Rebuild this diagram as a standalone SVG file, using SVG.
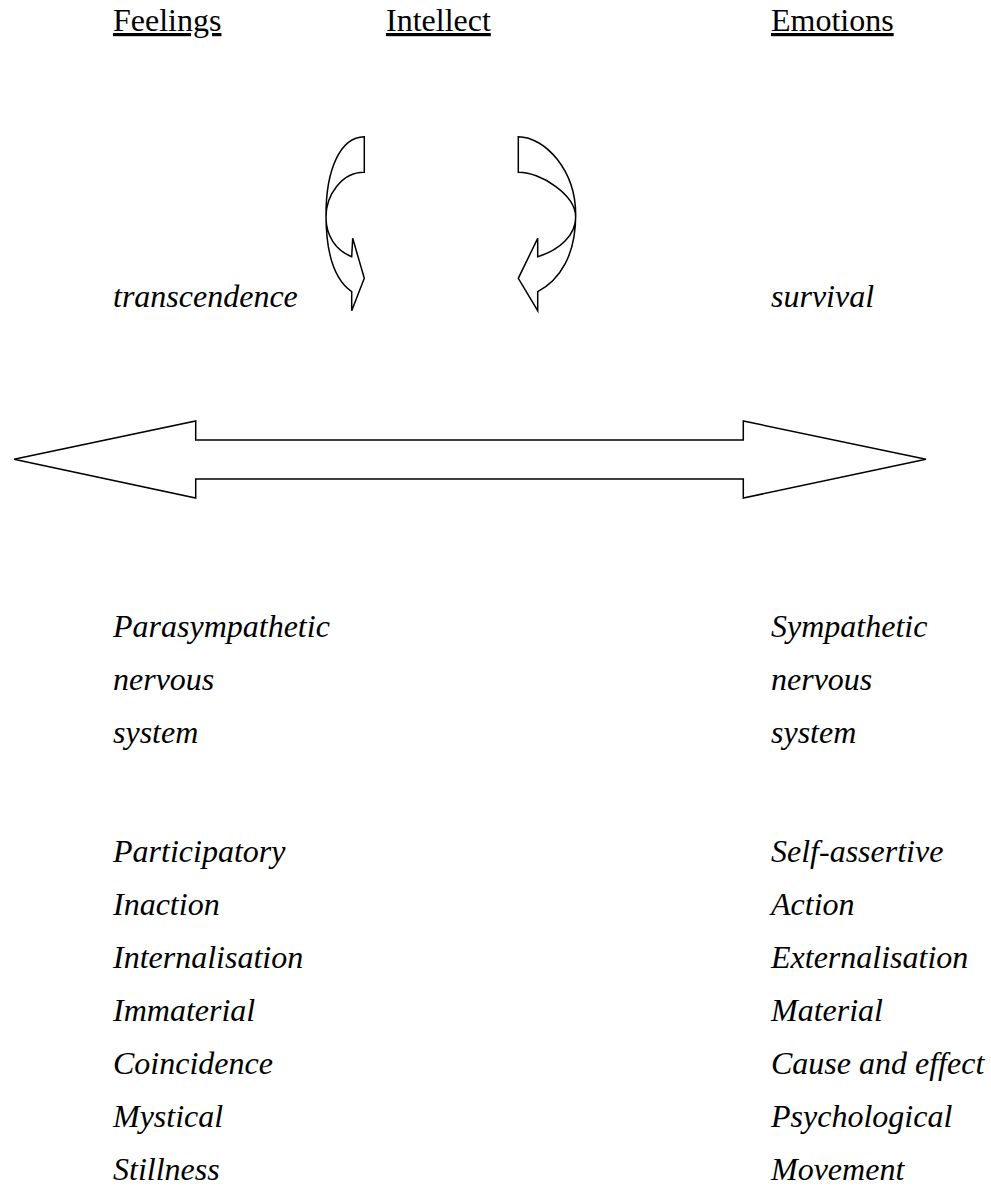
<svg xmlns="http://www.w3.org/2000/svg" width="991" height="1194" viewBox="0 0 991 1194">
<style>
text{font-family:"Liberation Serif","Times New Roman",serif;font-size:32px;fill:#000}
.h{text-decoration:underline}
.i{font-style:italic}
.shape{fill:#fff;stroke:#000;stroke-width:1.5;stroke-linejoin:miter}
</style>
<rect width="991" height="1194" fill="#fff"/>
<g id="headers">
<text class="h" x="113" y="31">Feelings</text>
<text class="h" x="386" y="31">Intellect</text>
<text class="h" x="771" y="31">Emotions</text>
</g>
<g id="connectors">
<path id="curl-left" class="shape" d="M364.3,136.7 L364.3,172.3 C342,172 326,195 326,217 C326,235 335,250 351.7,256.7 L352.7,238.3 L364.3,278.3 L351.7,310.7 L351.7,291.7 C335,280 326,255 326,215 C326,170 340,137 364.3,136.7 Z"/>
<path id="curl-right" class="shape" d="M518.3,136.7 L518.3,172.3 C541,172 575.7,195 575.7,217 C575.7,235 560,250 537.7,256.7 L537.7,238.3 L518.3,278.3 L537.7,310.7 L537.7,291.7 C560,280 575.7,255 575.7,215 C575.7,170 545,137 518.3,136.7 Z"/>
<path id="double-arrow" class="shape" d="M14,459.3 L195.7,421 L195.7,440 L743.3,440 L743.3,421 L926,459.3 L743.3,498 L743.3,479 L195.7,479 L195.7,498 Z"/>
</g>
<g id="top-labels">
<text class="i" x="113" y="307">transcendence</text>
<text class="i" x="771" y="307">survival</text>
</g>
<g id="left-column">
<text class="i" x="113" y="637">Parasympathetic</text>
<text class="i" x="113" y="690">nervous</text>
<text class="i" x="113" y="743">system</text>
<text class="i" x="113" y="862">Participatory</text>
<text class="i" x="113" y="915">Inaction</text>
<text class="i" x="113" y="968">Internalisation</text>
<text class="i" x="113" y="1021">Immaterial</text>
<text class="i" x="113" y="1074">Coincidence</text>
<text class="i" x="113" y="1127">Mystical</text>
<text class="i" x="113" y="1180">Stillness</text>
</g>
<g id="right-column">
<text class="i" x="771" y="637">Sympathetic</text>
<text class="i" x="771" y="690">nervous</text>
<text class="i" x="771" y="743">system</text>
<text class="i" x="771" y="862">Self-assertive</text>
<text class="i" x="771" y="915">Action</text>
<text class="i" x="771" y="968">Externalisation</text>
<text class="i" x="771" y="1021">Material</text>
<text class="i" x="771" y="1074">Cause and effect</text>
<text class="i" x="771" y="1127">Psychological</text>
<text class="i" x="771" y="1180">Movement</text>
</g>
</svg>
